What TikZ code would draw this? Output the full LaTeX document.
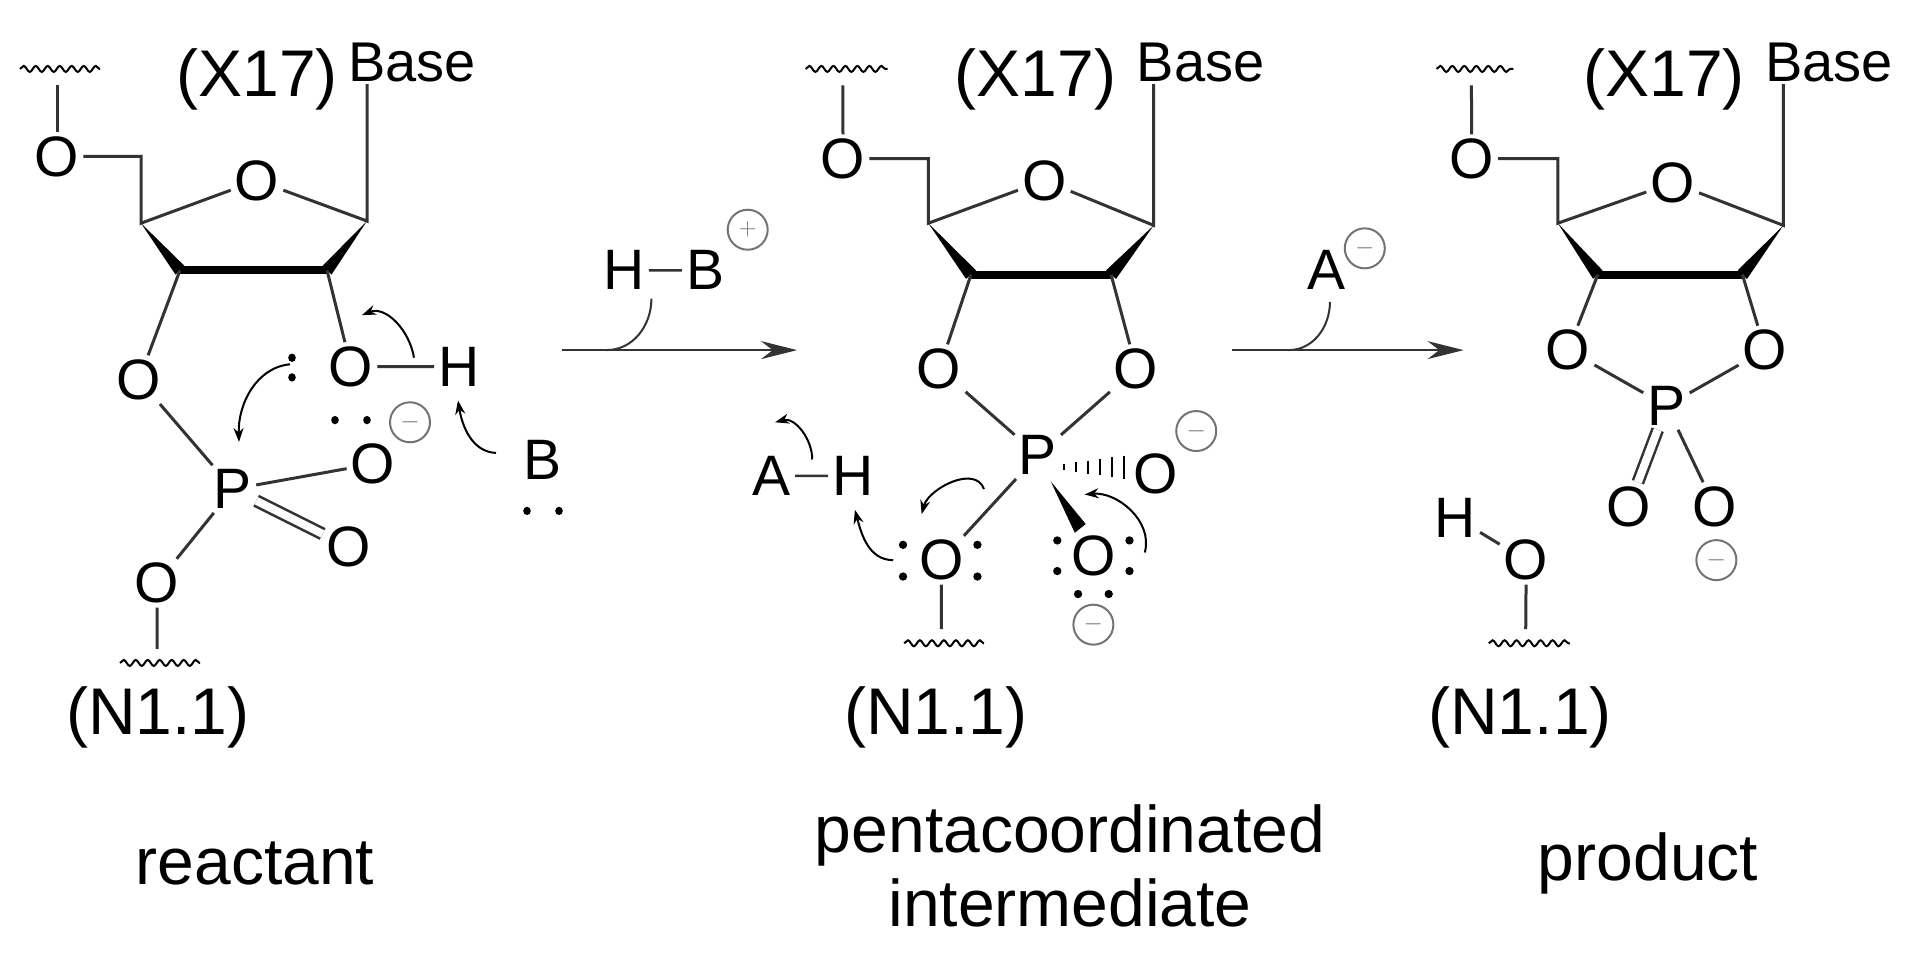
\documentclass[tikz,border=0pt]{standalone}
\usepackage{fontspec}
\setmainfont{Liberation Sans}
\usetikzlibrary{calc,arrows.meta,decorations.pathmorphing}

\newcommand{\atomfont}{\fontsize{57}{62}\selectfont}
\newcommand{\basefont}{\fontsize{56}{62}\selectfont}
\newcommand{\labfont}{\fontsize{66}{72}\selectfont}

\tikzset{
  atom/.style={inner sep=4pt, font=\atomfont},
  base/.style={inner sep=2pt, font=\basefont},
  lab/.style={inner sep=2pt, font=\labfont, align=center},
  bond/.style={line width=3pt, draw=black!80},
  wedge/.style={fill=black},
  chg/.style={circle, draw=black!55, line width=2pt, text=black!55, inner sep=0pt, minimum size=40pt, font=\fontsize{38}{38}\selectfont},
  wavy/.style={line width=2pt, decorate, decoration={snake, amplitude=3pt, segment length=12pt}},
  push/.style={line width=2pt, -{Stealth[length=14pt,width=10pt]}},
  rxn/.style={line width=2.5pt, draw=black!80, -{Stealth[length=36pt,width=18pt]}},
}

\begin{document}
\begin{tikzpicture}[x=1pt,y=-1pt]
  \path[use as bounding box] (0,0) rectangle (1907,960);

  % reactant
  \begin{scope}[yscale=1.094]
  \coordinate (r4) at (141,204);
  \coordinate (r3) at (180,247);
  \coordinate (r2) at (327,247);
  \coordinate (r1) at (367,202);
  \node[atom] (rO5) at (57,143) {O};
  \node[atom] (rOr) at (257,165) {O};
  \node[atom] (rO3) at (139,347) {O};
  \node[atom] (rO2) at (351,335) {O};
  \node[atom] (rH) at (459,335) {H};
  \node[atom] (rP) at (233,447) {P};
  \node[atom] (rOm) at (373,424) {O};
  \node[atom] (rOd) at (349,500) {O};
  \node[atom] (rOb) at (157,533) {O};
  \node[atom] (rB) at (543,420) {B};
  \node[chg] (rc) at (410,386) {$-$};
  \node[base] (rBase) at (412,57) {Base};
  \node[lab] (rX) at (257,73) {(X17)};
  \coordinate (rw) at (57,78);
  \coordinate (rwb) at (157,593);
  \draw[bond] (rO5) -- (rO5 -| r4) -- (r4) -- (rOr) -- (r1) -- (r1 |- rBase.south);
  \draw[bond] (rO5) -- (rw);
  \draw[wavy] (20,63) -- (100,63);
  \fill[wedge] (r4) -- ($(r3)!6pt!90:(r4)$) -- ($(r3)!6pt!-90:(r4)$) -- cycle;
  \fill[wedge] (r1) -- ($(r2)!6pt!90:(r1)$) -- ($(r2)!6pt!-90:(r1)$) -- cycle;
  \draw[line width=8pt] (r3) -- (r2);
  \draw[bond] (r3) -- (rO3) -- (rP) -- (rOm);
  \draw[bond] (r2) -- (rO2) -- (rH);
  \draw[bond, double, double distance=8pt, line width=2.5pt] (rP) -- (rOd);
  \draw[bond] (rP) -- (rOb) -- (rwb);
  \draw[wavy] (120,606) -- (200,606);
  \foreach \p in {(292,327),(292,345),(335,384),(367,384),(527,467),(559,467)}
    \fill \p circle (3.8pt);
  \draw[push] (414,327) to[out=100,in=20] (362,288);
  \draw[push] (290,333) to[out=185,in=92] (239,404);
  \draw[push] (496,414) to[out=178,in=-80] (458,366);
  \end{scope}

  % intermediate and first step
  \begin{scope}[xshift=-56.4pt, scale=1.094]
  \node[atom] (hbH) at (622,247) {H};
  \node[atom] (hbB) at (696,247) {B};
  \node[chg] (hbc) at (735,210) {$+$};
  \draw[bond, line width=2.5pt] (hbH) -- (hbB);
  \coordinate (a1s) at (565,320);
  \coordinate (a1e) at (780,320);
  \draw[rxn] (a1s) -- (a1e);
  \draw[bond, line width=2pt] (647,273) to[out=-90,in=0] (606,320);

  \coordinate (m4) at (900,204);
  \coordinate (m3) at (939,251);
  \coordinate (m2) at (1067,251);
  \coordinate (m1) at (1106,206);
  \node[atom] (mO5) at (822,145) {O};
  \node[atom] (mOr) at (1006,165) {O};
  \node[atom] (mO3) at (910,337) {O};
  \node[atom] (mO2) at (1090,337) {O};
  \node[atom] (mP) at (1000,416) {P};
  \node[atom] (mOm) at (1108,433) {O};
  \node[atom] (mOl) at (912,512) {O};
  \node[atom] (mOw) at (1051,508) {O};
  \node[atom] (mA) at (757,435) {A};
  \node[atom] (mH) at (831,435) {H};
  \node[chg] (mc1) at (1145,394) {$-$};
  \node[chg] (mc2) at (1051,571) {$-$};
  \node[base] (mBase) at (1149,57) {Base};
  \node[lab] (mX) at (998,73) {(X17)};
  \draw[bond] (mO5) -- (mO5 -| m4) -- (m4) -- (mOr) -- (m1) -- (m1 |- mBase.south);
  \draw[bond] (mO5) -- (822,78);
  \draw[wavy] (788,63) -- (863,63);
  \fill[wedge] (m4) -- ($(m3)!6pt!90:(m4)$) -- ($(m3)!6pt!-90:(m4)$) -- cycle;
  \fill[wedge] (m1) -- ($(m2)!6pt!90:(m1)$) -- ($(m2)!6pt!-90:(m1)$) -- cycle;
  \draw[line width=8pt] (m3) -- (m2);
  \draw[bond] (m3) -- (mO3) -- (mP) -- (mO2) -- (m2);
  \draw[bond] (mP) -- (mOl) -- (912,575);
  \draw[wavy] (878,588) -- (951,588);
  \draw[bond, line width=2.5pt] (mA) -- (mH);
  \fill[wedge] (1012,440) -- (1034,487) -- (1044,479) -- cycle;
  \foreach \i in {0,...,5}
    \draw[line width=2pt] (1024+\i*11,{424-1.5*\i}) -- (1024+\i*11,{430+1.5*\i});
  \foreach \p in {(877,498),(877,527),(945,498),(945,527),(1018,494),(1018,522),(1084,494),(1084,522),(1037,543),(1065,543)}
    \fill \p circle (3.8pt);
  \draw[push] (794,420) to[out=90,in=15] (760,386);
  \draw[push] (868,512) to[out=180,in=-75] (833,466);
  \draw[push] (951,447) to[out=110,in=75] (894,470);
  \draw[push] (1098,505) to[out=75,in=5] (1043,452);
  \end{scope}

  % second step and product
  \begin{scope}[xshift=-31.25pt, xscale=1.025, yscale=1.094]
  \node[atom] (sA) at (1325,247) {A};
  \node[chg] (sc) at (1362,227) {$-$};
  \coordinate (a2s) at (1232,320);
  \coordinate (a2e) at (1458,320);
  \draw[rxn] (a2s) -- (a2e);
  \draw[bond, line width=2pt] (1328,276) to[out=-90,in=0] (1288,320);

  \coordinate (p4) at (1550,204);
  \coordinate (p3) at (1589,251);
  \coordinate (p2) at (1730,251);
  \coordinate (p1) at (1770,206);
  \node[atom] (pO5) at (1466,145) {O};
  \node[atom] (pOr) at (1662,167) {O};
  \node[atom] (pO3) at (1560,320) {O};
  \node[atom] (pO2) at (1752,320) {O};
  \node[atom] (pP) at (1656,371) {P};
  \node[atom] (pOd) at (1619,463) {O};
  \node[atom] (pOm) at (1703,463) {O};
  \node[chg] (pc) at (1705,512) {$-$};
  \node[atom] (pH) at (1450,473) {H};
  \node[atom] (pO) at (1519,512) {O};
  \node[base] (pBase) at (1815,57) {Base};
  \node[lab] (pX) at (1654,73) {(X17)};
  \draw[bond] (pO5) -- (pO5 -| p4) -- (p4) -- (pOr) -- (p1) -- (p1 |- pBase.south);
  \draw[bond] (pO5) -- (1466,78);
  \draw[wavy] (1432,63) -- (1507,63);
  \fill[wedge] (p4) -- ($(p3)!6pt!90:(p4)$) -- ($(p3)!6pt!-90:(p4)$) -- cycle;
  \fill[wedge] (p1) -- ($(p2)!6pt!90:(p1)$) -- ($(p2)!6pt!-90:(p1)$) -- cycle;
  \draw[line width=8pt] (p3) -- (p2);
  \draw[bond] (p3) -- (pO3) -- (pP) -- (pO2) -- (p2);
  \draw[bond, double, double distance=8pt, line width=2.5pt] (pP) -- (pOd);
  \draw[bond] (pP) -- (pOm);
  \draw[bond] (pH) -- (pO) -- (1519,575);
  \draw[wavy] (1483,588) -- (1562,588);
  \end{scope}

  % captions
  \node[lab] (rN) at (158,717) {(N1.1)};
  \node[lab] (mN) at (936,717) {(N1.1)};
  \node[lab] (pN) at (1520,717) {(N1.1)};
  \node[lab] (rT) at (255,863) {reactant};
  \node[lab, text depth=0pt] (mT) at (1070,866) {pentacoordinated\\[2pt]intermediate};
  \node[lab] (pT) at (1648,863) {product};
\end{tikzpicture}
\end{document}
